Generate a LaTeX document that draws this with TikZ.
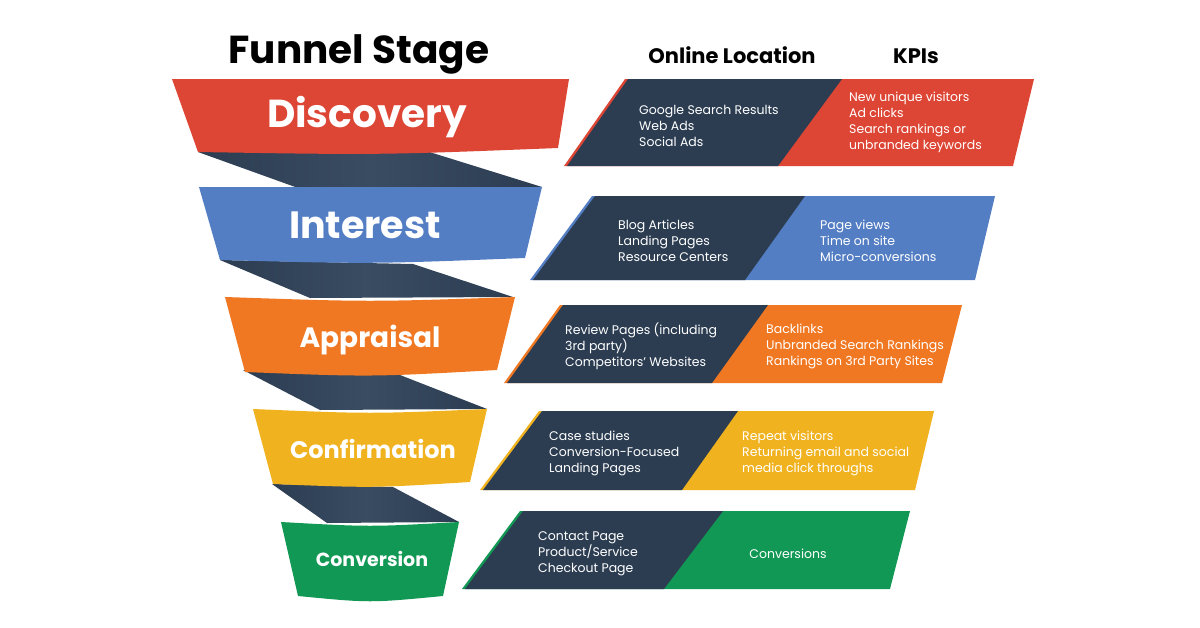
\documentclass[tikz,border=0pt]{standalone}
\usepackage{fontspec}
\setmainfont{Poppins}
\usepackage{tikz}

\definecolor{discred}{RGB}{221,69,52}
\definecolor{intblue}{RGB}{84,126,196}
\definecolor{apporange}{RGB}{240,120,34}
\definecolor{confyellow}{RGB}{240,178,30}
\definecolor{convgreen}{RGB}{17,152,84}
\definecolor{navy}{RGB}{44,61,82}
\definecolor{navylight}{RGB}{58,76,98}

\begin{document}
\begin{tikzpicture}[x=1pt, y=-1pt,
  head/.style={anchor=base, inner sep=0pt, text=black, font=\bfseries\fontsize{21}{24}\selectfont},
  stage/.style={anchor=base, inner sep=0pt, text=white},
  list/.style={anchor=west, inner sep=0pt, align=left, text=white, font=\fontsize{12.5}{16}\selectfont},
  twist/.style={left color=navy, right color=navy, middle color=navylight}
]
  \useasboundingbox[fill=white] (0,0) rectangle (1200,627);

  % twists behind the funnel bands
  \shade[twist] (198,152) -- (423,150) -- (542,187) -- (298,188) -- cycle;
  \shade[twist] (220,260) -- (413,264) -- (513,297) -- (310,298) -- cycle;
  \shade[twist] (243,370) -- (400,375) -- (487,409) -- (320,410) -- cycle;
  \shade[twist] (272,484) -- (393,487) -- (459,522) -- (327,523) -- cycle;

  % funnel bands
  \fill[discred] (172,79) -- (569,79) -- (558,148) .. controls (380,155) .. (198,152) -- cycle;
  \fill[intblue] (199,187) -- (542,187) -- (525,258) .. controls (372,264) .. (220,260) -- cycle;
  \fill[apporange] (225,297) .. controls (370,302) .. (515,297) -- (497,370) .. controls (371,377) .. (245,372) -- cycle;
  \fill[confyellow] (253,409) .. controls (370,414) .. (487,409) -- (470,482) .. controls (372,488) .. (273,484) -- cycle;
  \fill[convgreen] (281,522) .. controls (370,527) .. (459,522) -- (443,596) .. controls (370,603) .. (298,596) -- cycle;

  % right-hand rows
  \fill[discred] (625,79) -- (1034,79) -- (1013,166) -- (564,166) -- cycle;
  \fill[navy] (628,79) -- (842,79) -- (778,166) -- (567,166) -- cycle;
  \fill[intblue] (592,196) -- (995,196) -- (975,280) -- (530,280) -- cycle;
  \fill[navy] (595,196) -- (805,196) -- (745,280) -- (533,280) -- cycle;
  \fill[apporange] (560,305) -- (962,305) -- (942,383) -- (504,383) -- cycle;
  \fill[navy] (563,305) -- (768,305) -- (712,383) -- (507,383) -- cycle;
  \fill[confyellow] (539,411) -- (934,411) -- (915,490) -- (480,490) -- cycle;
  \fill[navy] (542,411) -- (738,411) -- (682,490) -- (483,490) -- cycle;
  \fill[convgreen] (520,511) -- (910,511) -- (890,589) -- (462,589) -- cycle;
  \fill[navy] (523,511) -- (723,511) -- (664,589) -- (465,589) -- cycle;

  % headings
  \node[head, font=\bfseries\fontsize{39}{43}\selectfont] (stagehead) at (359,63) {Funnel Stage};
  \node[head] (lochead) at (732,63) {Online Location};
  \node[head] (kpihead) at (916,63) {KPIs};

  % stage names
  \node[stage, font=\bfseries\fontsize{39}{44}\selectfont] (discovery) at (367,127) {Discovery};
  \node[stage, font=\bfseries\fontsize{38}{42}\selectfont] (interest) at (365,238) {Interest};
  \node[stage, font=\bfseries\fontsize{28}{32}\selectfont] (appraisal) at (370,347) {Appraisal};
  \node[stage, font=\bfseries\fontsize{24}{28}\selectfont] (confirmation) at (373,458) {Confirmation};
  \node[stage, font=\bfseries\fontsize{19}{22}\selectfont] (conversion) at (372,566) {Conversion};

  % online locations
  \node[list] (discloc) at (639,126) {Google Search Results\\Web Ads\\Social Ads};
  \node[list] (intloc) at (618,241) {Blog Articles\\Landing Pages\\Resource Centers};
  \node[list] (apploc) at (565,346) {Review Pages (including\\3rd party)\\Competitors’ Websites};
  \node[list] (confloc) at (549,453) {Case studies\\Conversion-Focused\\Landing Pages};
  \node[list] (convloc) at (538,554) {Contact Page\\Product/Service\\Checkout Page};

  % kpis
  \node[list] (disckpi) at (849,122) {New unique visitors\\Ad clicks\\Search rankings or\\unbranded keywords};
  \node[list] (intkpi) at (820,241) {Page views\\Time on site\\Micro-conversions};
  \node[list] (appkpi) at (766,346) {Backlinks\\Unbranded Search Rankings\\Rankings on 3rd Party Sites};
  \node[list] (confkpi) at (742,453) {Repeat visitors\\Returning email and social\\media click throughs};
  \node[list, anchor=center] (convkpi) at (788,554) {Conversions};
\end{tikzpicture}
\end{document}
